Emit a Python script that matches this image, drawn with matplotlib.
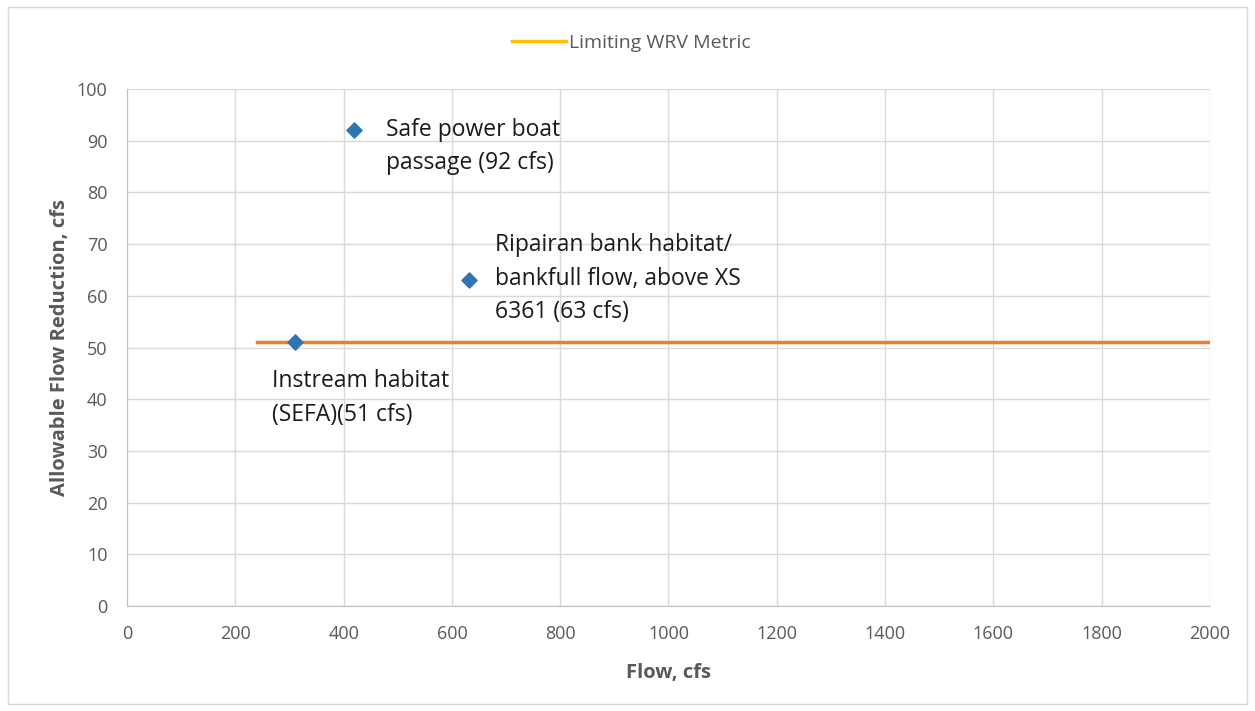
import matplotlib.pyplot as plt
from matplotlib.lines import Line2D

# metric points
flow = [420, 632, 311]
reduction = [92, 63, 51]
labels = ['Safe power boat\npassage (92 cfs)',
          'Ripairan bank habitat/\nbankfull flow, above XS\n6361 (63 cfs)',
          'Instream habitat\n(SEFA)(51 cfs)']
label_pos = [(478, 94.4), (680, 72.1), (268, 45.8)]

# limiting WRV metric line
limit_x = [240, 2000]
limit_y = [51, 51]

xticks = list(range(0, 2001, 200))
yticks = list(range(0, 101, 10))

plt.rcParams['font.family'] = ['Open Sans', 'DejaVu Sans']
grey = '#595959'

fig = plt.figure(figsize=(12.55, 7.11), dpi=100)
ax = fig.add_axes([0.1012, 0.1477, 0.8629, 0.7271])

ax.plot(limit_x, limit_y, color='#ED7D31', lw=2.5, zorder=2)
ax.scatter(flow, reduction, marker='D', s=60, color='#2E75B6', zorder=3)

for txt, (x, y) in zip(labels, label_pos):
    ax.text(x, y, txt, fontsize=16.5, color='#1a1a1a', va='top', ha='left',
            linespacing=1.52, transform=ax.transData)

ax.set_xlim(0, 2000)
ax.set_ylim(0, 100)
ax.set_xticks(xticks)
ax.set_yticks(yticks)
ax.grid(True, color='#D9D9D9', lw=1)
ax.set_axisbelow(True)
for s in ['top', 'right']:
    ax.spines[s].set_visible(False)
for s in ['left', 'bottom']:
    ax.spines[s].set_color('#BFBFBF')
ax.tick_params(length=0, colors=grey, labelsize=13, pad=14)

ax.set_xlabel('Flow, cfs', fontsize=14.5, fontweight='bold', color=grey, labelpad=14)
ax.set_ylabel('Allowable Flow Reduction, cfs', fontsize=14.5, fontweight='bold',
              color=grey, labelpad=5)

handle = Line2D([], [], color='#FFC000', lw=2.5)
fig.legend([handle], ['Limiting WRV Metric'], loc='center', bbox_to_anchor=(0.503, 0.94),
           frameon=False, fontsize=14, labelcolor=grey, handlelength=2.8, handletextpad=0.15)

fig.patches.append(plt.Rectangle((0.006, 0.01), 0.988, 0.98, transform=fig.transFigure,
                                 fill=False, edgecolor='#D9D9D9', lw=1))

fig.savefig('out.png', dpi=100)
